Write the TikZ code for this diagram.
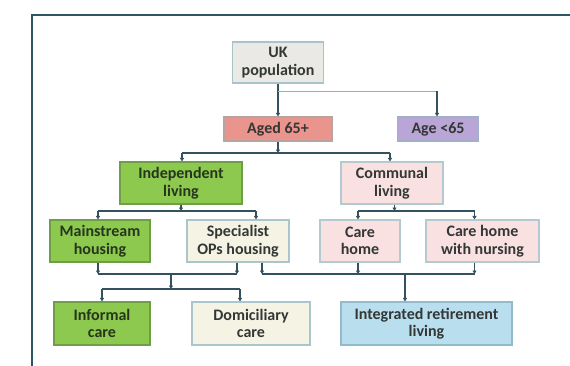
\documentclass[tikz,border=0pt]{standalone}
\usepackage{fontspec}
\setmainfont{Carlito}
\usetikzlibrary{arrows.meta}

\definecolor{framec}{HTML}{2C5566}
\definecolor{conn}{HTML}{33515F}
\definecolor{connlight}{HTML}{8FB3BD}
\definecolor{txt}{HTML}{333736}
\definecolor{txtg}{HTML}{26351E}
\definecolor{greyF}{HTML}{EBE9E6}\definecolor{greyD}{HTML}{A9C3CC}
\definecolor{redF}{HTML}{E9948D}\definecolor{redD}{HTML}{B8A3A3}
\definecolor{lilF}{HTML}{B9A6D6}\definecolor{lilD}{HTML}{9FB0C8}
\definecolor{grnF}{HTML}{8DC84F}\definecolor{grnD}{HTML}{6F9E48}
\definecolor{crmF}{HTML}{F5F3E3}\definecolor{crmD}{HTML}{AAC6CC}
\definecolor{pnkF}{HTML}{F9E1E1}\definecolor{pnkD}{HTML}{B5C9D1}
\definecolor{bluF}{HTML}{B9DEEE}\definecolor{bluD}{HTML}{93BCCB}

\begin{document}
\begin{tikzpicture}[x=1pt,y=-1pt,
  box/.style={draw, line width=1.1pt, inner sep=0pt, align=center,
    font=\bfseries\fontsize{16}{17.5}\selectfont, text=txt},
  greybox/.style={box, fill=greyF, draw=greyD},
  redbox/.style={box, fill=redF, draw=redD},
  lilbox/.style={box, fill=lilF, draw=lilD},
  grnbox/.style={box, fill=grnF, draw=grnD, text=txtg},
  crmbox/.style={box, fill=crmF, draw=crmD},
  pnkbox/.style={box, fill=pnkF, draw=pnkD},
  blubox/.style={box, fill=bluF, draw=bluD},
  link/.style={draw=conn, line width=1.6pt},
  tip/.style={link, -{Triangle[length=3.5pt,width=4pt]}},
  faint/.style={draw=connlight, line width=1pt},
  frameline/.style={draw=framec, line width=2pt}]

\useasboundingbox (0,0) rectangle (570,365);
\fill[white] (0,0) rectangle (570,365);

% outer frame (runs off the right and bottom edges)
\draw[frameline] (32,380) -- (32,14.5) -- (590,14.5);

% boxes
\node[greybox, minimum width=91pt, minimum height=41pt] (uk) at (278,62.5) {UK\\population};
\node[redbox, minimum width=108pt, minimum height=24pt] (aged) at (278,129) {Aged 65+};
\node[lilbox, minimum width=81pt, minimum height=24pt] (young) at (438,129) {Age <65};

\node[grnbox, minimum width=122pt, minimum height=42pt] (indep) at (181,183) {Independent\\living};
\node[pnkbox, minimum width=102pt, minimum height=42pt] (comm) at (392,183) {Communal\\living};

\node[grnbox, minimum width=100pt, minimum height=42pt] (main) at (100,241) {Mainstream\\housing};
\node[crmbox, minimum width=102pt, minimum height=42pt] (spec) at (238,241) {Specialist\\OPs housing};
\node[pnkbox, minimum width=80pt, minimum height=42pt] (care) at (360,241) {Care\\home};
\node[pnkbox, minimum width=113pt, minimum height=42pt] (nurs) at (482.5,241) {Care home\\with nursing};

\node[grnbox, minimum width=96pt, minimum height=43pt] (inf) at (102,323.5) {Informal\\care};
\node[crmbox, minimum width=118pt, minimum height=43pt] (dom) at (251,323.5) {Domiciliary\\care};
\node[blubox, minimum width=171pt, minimum height=43pt] (irl) at (426.5,323.5) {Integrated retirement\\living};

% rows of the connector bars
\coordinate (r0) at (0,91);
\coordinate (r1) at (0,153);
\coordinate (r2) at (0,211);
\coordinate (r3) at (0,274);
\coordinate (r4) at (0,289);

% columns where connectors meet boxes
\coordinate (cMain) at (98,0);
\coordinate (cSpecT) at (256,0);
\coordinate (cSpecL) at (237,0);
\coordinate (cSpecR) at (262,0);
\coordinate (cIndep) at (181,0);
\coordinate (cComm) at (394.5,0);
\coordinate (cCare) at (358,0);
\coordinate (cNurs) at (474.5,0);
\coordinate (cMid) at (171,0);
\coordinate (cDom) at (240,0);
\coordinate (cIrl) at (405,0);
\coordinate (cAgedL) at (182,0);
\coordinate (cCommT) at (390,0);
\coordinate (cYoung) at (437,0);

% UK population split
\draw[tip] (uk.south) -- (aged.north);
\draw[faint] (uk.south |- r0) -- (cYoung |- r0);
\draw[tip] (cYoung |- r0) -- (cYoung |- young.north);

% Aged 65+ split
\draw[tip] (aged.south) -- (aged.south |- r1);
\draw[link] (cAgedL |- r1) -- (cCommT |- r1);
\draw[tip] (cAgedL |- r1) -- (cAgedL |- indep.north);
\draw[tip] (cCommT |- r1) -- (cCommT |- comm.north);

% Independent living split
\draw[tip] (cIndep |- indep.south) -- (cIndep |- r2);
\draw[link] (cMain |- r2) -- (cSpecT |- r2);
\draw[tip] (cMain |- r2) -- (cMain |- main.north);
\draw[tip] (cSpecT |- r2) -- (cSpecT |- spec.north);

% Communal living split
\draw[tip] (cComm |- comm.south) -- (cComm |- r2);
\draw[link] (cCare |- r2) -- (cNurs |- r2);
\draw[tip] (cCare |- r2) -- (cCare |- care.north);
\draw[tip] (cNurs |- r2) -- (cNurs |- nurs.north);

% housing to care at home
\draw[tip] (cMain |- main.south) -- (cMain |- r3);
\draw[tip] (cSpecL |- spec.south) -- (cSpecL |- r3);
\draw[link] (cMain |- r3) -- (cSpecL |- r3);
\draw[tip] (cMid |- r3) -- (cMid |- r4);
\draw[link] (inf.north |- r4) -- (cDom |- r4);
\draw[tip] (inf.north |- r4) -- (inf.north);
\draw[tip] (cDom |- r4) -- (cDom |- dom.north);

% housing and care homes to integrated retirement living
\draw[tip] (cSpecR |- spec.south) -- (cSpecR |- r3);
\draw[tip] (cCare |- care.south) -- (cCare |- r3);
\draw[tip] (cNurs |- nurs.south) -- (cNurs |- r3);
\draw[link] (cSpecR |- r3) -- (cNurs |- r3);
\draw[tip] (cIrl |- r3) -- (cIrl |- irl.north);

\end{tikzpicture}
\end{document}
